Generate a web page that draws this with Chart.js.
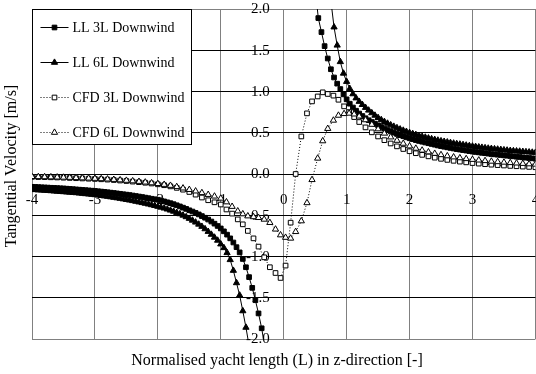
<!DOCTYPE html>
<html><head><meta charset="utf-8">
<script src="https://cdn.jsdelivr.net/npm/chart.js@4"></script>
<style>html,body{margin:0;padding:0;overflow:hidden;background:#fff;width:536px;height:374px}#c{display:block}</style>
</head><body>
<canvas id="c" width="540" height="374" style="width:540px;height:374px"></canvas>
<script>
// ---- data ----
const seriesNames = ['LL 3L Downwind','LL 6L Downwind','CFD 3L Downwind','CFD 6L Downwind'];
const xTitle = 'Normalised yacht length (L) in z-direction [-]';
const yTitle = 'Tangential Velocity [m/s]';
const xTickValues = [-4,-3,-2,-1,0,1,2,3,4];
const xTickLabels = ['-4','-3','-2','-1','0','1','2','3','4'];
const yTickValues = [2,1.5,1,0.5,0,-0.5,-1,-1.5,-2];
const yTickLabels = ['2.0','1.5','1.0','0.5','0.0','-0.5','-1.0','-1.5','-2.0'];

// z positions of the lifting-line samples
const llZ = [
-4.00,-3.95,-3.90,-3.85,-3.80,-3.75,-3.70,-3.65,-3.60,-3.55,
-3.50,-3.45,-3.40,-3.35,-3.30,-3.25,-3.20,-3.15,-3.10,-3.05,
-3.00,-2.95,-2.90,-2.85,-2.80,-2.75,-2.70,-2.65,-2.60,-2.55,
-2.50,-2.45,-2.40,-2.35,-2.30,-2.25,-2.20,-2.15,-2.10,-2.05,
-2.00,-1.95,-1.90,-1.85,-1.80,-1.75,-1.70,-1.65,-1.60,-1.55,
-1.50,-1.45,-1.40,-1.35,-1.30,-1.25,-1.20,-1.15,-1.10,-1.05,
-1.00,-0.95,-0.90,-0.85,-0.80,-0.75,-0.70,-0.65,-0.60,-0.55,
-0.50,-0.45,-0.40,-0.35,-0.30,-0.25,-0.20,-0.15,-0.10,-0.05,
0.00,0.05,0.10,0.15,0.20,0.25,0.30,0.35,0.40,0.45,
0.50,0.55,0.60,0.65,0.70,0.75,0.80,0.85,0.90,0.95,
1.00,1.05,1.10,1.15,1.20,1.25,1.30,1.35,1.40,1.45,
1.50,1.55,1.60,1.65,1.70,1.75,1.80,1.85,1.90,1.95,
2.00,2.05,2.10,2.15,2.20,2.25,2.30,2.35,2.40,2.45,
2.50,2.55,2.60,2.65,2.70,2.75,2.80,2.85,2.90,2.95,
3.00,3.05,3.10,3.15,3.20,3.25,3.30,3.35,3.40,3.45,
3.50,3.55,3.60,3.65,3.70,3.75,3.80,3.85,3.90,3.95,
4.00];

const ll3 = [
-0.155,-0.157,-0.159,-0.161,-0.163,-0.165,-0.167,-0.169,-0.171,-0.173,
-0.175,-0.178,-0.181,-0.184,-0.187,-0.190,-0.193,-0.196,-0.199,-0.202,
-0.205,-0.209,-0.213,-0.217,-0.221,-0.226,-0.230,-0.235,-0.240,-0.245,
-0.250,-0.255,-0.261,-0.267,-0.273,-0.279,-0.286,-0.293,-0.300,-0.306,
-0.312,-0.321,-0.332,-0.343,-0.354,-0.366,-0.379,-0.393,-0.408,-0.423,
-0.440,-0.455,-0.472,-0.490,-0.510,-0.530,-0.552,-0.576,-0.602,-0.630,
-0.660,-0.695,-0.735,-0.780,-0.830,-0.887,-0.950,-1.030,-1.130,-1.250,
-1.380,-1.530,-1.690,-1.870,-2.100,null,null,null,null,null,
null,null,null,null,null,null,null,null,null,null,
2.250,1.890,1.720,1.550,1.400,1.270,1.170,1.095,1.030,0.965,
0.905,0.852,0.806,0.767,0.733,0.703,0.676,0.652,0.630,0.610,
0.590,0.570,0.551,0.533,0.516,0.500,0.485,0.471,0.458,0.445,
0.433,0.422,0.411,0.401,0.391,0.382,0.373,0.364,0.355,0.346,
0.338,0.330,0.323,0.316,0.309,0.302,0.296,0.290,0.284,0.278,
0.272,0.267,0.262,0.257,0.252,0.247,0.242,0.238,0.234,0.230,
0.226,0.222,0.218,0.214,0.210,0.206,0.202,0.198,0.194,0.190,
0.186];

const ll6 = [
-0.190,-0.192,-0.195,-0.197,-0.200,-0.202,-0.205,-0.208,-0.211,-0.214,
-0.217,-0.220,-0.223,-0.226,-0.229,-0.233,-0.237,-0.241,-0.245,-0.249,
-0.253,-0.258,-0.263,-0.268,-0.273,-0.279,-0.285,-0.291,-0.297,-0.304,
-0.311,-0.318,-0.325,-0.333,-0.341,-0.349,-0.357,-0.366,-0.375,-0.384,
-0.394,-0.404,-0.415,-0.427,-0.440,-0.453,-0.468,-0.484,-0.501,-0.520,
-0.540,-0.562,-0.585,-0.610,-0.637,-0.666,-0.698,-0.733,-0.768,-0.805,
-0.850,-0.895,-0.955,-1.040,-1.170,-1.320,-1.470,-1.660,-1.860,-2.080,
null,null,null,null,null,null,null,null,null,null,
null,null,null,null,null,null,null,null,null,null,
null,null,null,null,null,2.100,1.780,1.560,1.360,1.220,
1.120,1.035,0.970,0.920,0.878,0.840,0.805,0.772,0.740,0.710,
0.682,0.657,0.634,0.613,0.594,0.576,0.559,0.543,0.528,0.514,
0.500,0.488,0.476,0.465,0.454,0.444,0.434,0.425,0.416,0.408,
0.400,0.393,0.386,0.379,0.372,0.366,0.360,0.354,0.348,0.342,
0.336,0.331,0.326,0.321,0.316,0.311,0.307,0.303,0.299,0.295,
0.291,0.287,0.283,0.280,0.277,0.274,0.271,0.268,0.265,0.262,
0.260];

// z positions of the CFD samples
const cfdZ = [
-4.0,-3.9,-3.8,-3.7,-3.6,-3.5,-3.4,-3.3,-3.2,-3.1,
-3.0,-2.9,-2.8,-2.7,-2.6,-2.5,-2.4,-2.3,-2.2,-2.1,
-2.0,-1.9,-1.8,-1.7,-1.6,-1.5,-1.4,-1.3,-1.2,-1.1,
-1.0,-0.91,-0.82,-0.73,-0.65,-0.57,-0.48,-0.40,-0.31,-0.22,
-0.13,-0.05,0.03,0.11,0.19,0.28,0.37,0.45,0.54,0.62,
0.70,0.79,0.87,0.96,1.04,1.12,1.20,
1.3,1.4,1.5,1.6,1.7,1.8,1.9,2.0,2.1,2.2,
2.3,2.4,2.5,2.6,2.7,2.8,2.9,3.0,3.1,3.2,
3.3,3.4,3.5,3.6,3.7,3.8,3.9,4.0];

const cfd3 = [
-0.035,-0.037,-0.038,-0.040,-0.042,-0.045,-0.048,-0.051,-0.054,-0.057,
-0.060,-0.064,-0.068,-0.073,-0.079,-0.085,-0.092,-0.099,-0.106,-0.115,
-0.125,-0.136,-0.150,-0.168,-0.190,-0.218,-0.250,-0.285,-0.318,-0.343,
-0.370,-0.430,-0.480,-0.550,-0.610,-0.690,-0.780,-0.880,-1.010,-1.130,
-1.200,-1.260,-1.110,-0.590,0.000,0.455,0.735,0.880,0.940,0.990,
0.970,0.950,0.900,0.820,0.750,0.690,0.630,
0.565,0.505,0.455,0.410,0.370,0.335,0.303,0.276,0.252,0.232,
0.214,0.198,0.184,0.171,0.160,0.150,0.141,0.133,0.126,0.119,
0.113,0.108,0.103,0.098,0.094,0.090,0.086,0.082];

const cfd6 = [
-0.033,-0.034,-0.035,-0.037,-0.039,-0.041,-0.043,-0.046,-0.049,-0.052,
-0.055,-0.059,-0.063,-0.068,-0.073,-0.079,-0.085,-0.092,-0.100,-0.109,
-0.118,-0.128,-0.140,-0.155,-0.172,-0.190,-0.208,-0.228,-0.250,-0.270,
-0.295,-0.340,-0.395,-0.450,-0.485,-0.510,-0.520,-0.530,-0.550,-0.590,
-0.670,-0.740,-0.770,-0.780,-0.700,-0.570,-0.350,-0.070,0.190,0.400,
0.550,0.650,0.710,0.730,0.735,0.725,0.700,
0.655,0.600,0.545,0.493,0.447,0.406,0.370,0.338,0.310,0.287,
0.266,0.248,0.232,0.218,0.205,0.194,0.184,0.175,0.167,0.160,
0.153,0.147,0.141,0.136,0.131,0.126,0.121,0.117];

// ---- chart ----
const pts = (xs, ys) => xs.map((v, i) => ({x: v, y: ys[i]}));
const FONT = '"Liberation Serif", "Times New Roman", serif';

function mk(label, data, style, fill, dash, order) {
  return {
    label, data, showLine: true, order,
    borderColor: '#000', borderWidth: 1, borderDash: dash,
    pointStyle: style, pointRadius: style === 'rect' ? 3.3 : 3.6,
    pointBackgroundColor: fill, pointBorderColor: '#000', pointBorderWidth: 1,
    pointHoverRadius: 0
  };
}

function drawMarker(ctx, style, x, y, r, fill) {
  ctx.save();
  ctx.setLineDash([]);
  ctx.fillStyle = fill; ctx.strokeStyle = '#000'; ctx.lineWidth = 1;
  ctx.beginPath();
  if (style === 'rect') {
    const s = Math.SQRT1_2 * r;
    ctx.rect(x - s, y - s, 2 * s, 2 * s);
  } else {
    let a = 0;
    for (let k = 0; k < 3; k++) {
      const px = x + Math.sin(a) * r, py = y - Math.cos(a) * r;
      if (k === 0) ctx.moveTo(px, py); else ctx.lineTo(px, py);
      a += 2 * Math.PI / 3;
    }
    ctx.closePath();
  }
  ctx.fill(); ctx.stroke();
  ctx.restore();
}

const overlay = {
  id: 'overlay',
  beforeDatasetsDraw(chart) {
    const {ctx, scales: {x, y}} = chart;
    ctx.save();
    ctx.fillStyle = '#000';
    ctx.font = '15px ' + FONT;
    const y0 = y.getPixelForValue(0), x0 = x.getPixelForValue(0);
    ctx.textAlign = 'center'; ctx.textBaseline = 'middle';
    xTickValues.forEach((v, i) => ctx.fillText(xTickLabels[i], x.getPixelForValue(v), y0 + 26));
    ctx.textAlign = 'right';
    yTickValues.forEach((v, i) => ctx.fillText(yTickLabels[i], x0 - 14, y.getPixelForValue(v) + 0.5));
    ctx.restore();
  },
  afterDraw(chart) {
    const {ctx, chartArea} = chart;
    ctx.save();
    // titles
    ctx.fillStyle = '#000';
    ctx.font = '16px ' + FONT;
    ctx.textAlign = 'center'; ctx.textBaseline = 'middle';
    ctx.fillText(xTitle, 277, 361);
    ctx.translate(12, 166); ctx.rotate(-Math.PI / 2);
    ctx.fillText(yTitle, 0, 0);
    ctx.restore();
    // legend
    ctx.save();
    const lx = chartArea.left + 0.5, ly = chartArea.top + 0.5;
    ctx.fillStyle = '#fff';
    ctx.fillRect(lx, ly, 159, 135);
    ctx.strokeStyle = '#000'; ctx.lineWidth = 1;
    ctx.strokeRect(lx, ly, 159, 135);
    ctx.font = '14px ' + FONT;
    ctx.textAlign = 'left'; ctx.textBaseline = 'middle';
    chart.data.datasets.forEach((ds, i) => {
      const yy = ly + 18 + 35 * i;
      ctx.strokeStyle = '#000'; ctx.lineWidth = 1;
      ctx.setLineDash(ds.borderDash || []);
      ctx.beginPath(); ctx.moveTo(lx + 8, yy); ctx.lineTo(lx + 36, yy); ctx.stroke();
      ctx.setLineDash([]);
      drawMarker(ctx, ds.pointStyle, lx + 22, yy, ds.pointRadius, ds.pointBackgroundColor);
      ctx.fillStyle = '#000';
      ctx.fillText(ds.label, lx + 40, yy + 0.5);
    });
    ctx.restore();
  }
};

new Chart(document.getElementById('c'), {
  type: 'scatter',
  data: {
    datasets: [
      mk(seriesNames[0], pts(llZ, ll3), 'rect', '#000', [], 4),
      mk(seriesNames[1], pts(llZ, ll6), 'triangle', '#000', [], 3),
      mk(seriesNames[2], pts(cfdZ, cfd3), 'rect', '#fff', [1, 2], 2),
      mk(seriesNames[3], pts(cfdZ, cfd6), 'triangle', '#fff', [1, 2], 1)
    ]
  },
  options: {
    responsive: false, animation: false, devicePixelRatio: 1,
    layout: {padding: {left: 32, top: 9, right: 2.5, bottom: 35}},
    plugins: {legend: {display: false}, tooltip: {enabled: false}, title: {display: false}},
    events: [],
    scales: {
      x: {
        type: 'linear', min: -4, max: 4,
        ticks: {display: false, stepSize: 1},
        grid: {color: '#808080', lineWidth: 1, drawTicks: false},
        border: {display: false},
        afterFit(s) { s.height = 0; }
      },
      y: {
        type: 'linear', min: -2, max: 2,
        ticks: {display: false, stepSize: 0.5},
        grid: {color: c => Math.abs(c.tick.value) === 2 ? '#808080' : '#000', lineWidth: 1, drawTicks: false},
        border: {display: false},
        afterFit(s) { s.width = 0; }
      }
    }
  },
  plugins: [overlay]
});
</script>
</body></html>
